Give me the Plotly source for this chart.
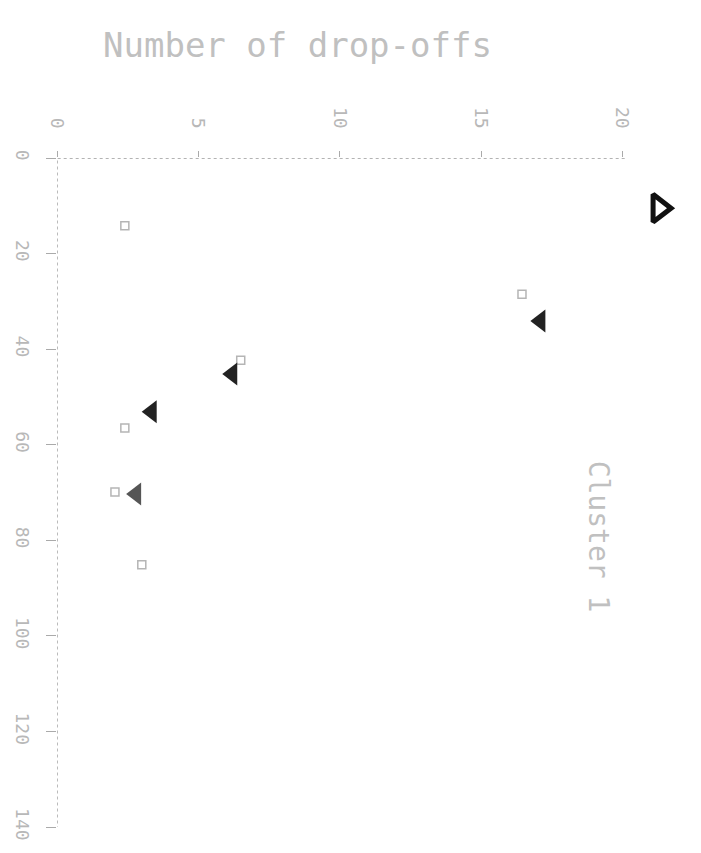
import plotly.graph_objects as go

# Data
x_ticks = [0, 5, 10, 15, 20]
y_ticks = [0, 20, 40, 60, 80, 100, 120, 140]

label_x = [2.4, 6.5, 2.4, 2.05, 3.0, 16.45]
label_y = [14.2, 42.3, 56.5, 69.9, 85.1, 28.5]

tri_x = [6.2, 3.35, 2.8, 17.1]
tri_y = [45.2, 53.1, 70.3, 34.1]
tri_colors = ["#222222", "#222222", "#555555", "#222222"]

special_x = [21.3]
special_y = [10.5]

fig = go.Figure()

fig.add_trace(go.Scatter(
    x=label_x, y=label_y, mode="markers",
    marker=dict(symbol="square-open", size=8, color="#b5b5b5", line=dict(width=1.5)),
    cliponaxis=False, showlegend=False, hoverinfo="skip"))

fig.add_trace(go.Scatter(
    x=tri_x, y=tri_y, mode="markers",
    marker=dict(symbol="triangle-left", size=20, color=tri_colors, line=dict(width=0)),
    cliponaxis=False, showlegend=False))

fig.add_trace(go.Scatter(
    x=special_x, y=special_y, mode="markers",
    marker=dict(symbol="triangle-right-open", size=24, color="#111111", line=dict(width=5)),
    cliponaxis=False, showlegend=False))

# dotted axis lines
fig.add_shape(type="line", xref="x", yref="y", x0=-0.4, x1=20.1, y0=0, y1=0,
              line=dict(color="#9a9a9a", width=1.5, dash="dot"))
fig.add_shape(type="line", xref="x", yref="y", x0=0, x1=0, y0=-2, y1=141,
              line=dict(color="#a5a5a5", width=1.5, dash="dot"))

fig.add_annotation(text="Number of drop-offs", xref="x", yref="paper",
                   x=8.5, y=1.0, xanchor="center", yanchor="middle", yshift=113,
                   showarrow=False,
                   font=dict(family="DejaVu Sans Mono", size=34, color="#c0c0c0"))

fig.add_annotation(text="Cluster 1", xref="x", yref="y",
                   x=19.15, y=79.3, textangle=90, showarrow=False,
                   font=dict(family="DejaVu Sans Mono", size=28, color="#c0c0c0"))

fig.update_xaxes(side="top", range=[0, 22.5], tickmode="array", tickvals=x_ticks,
                 ticktext=[str(v) for v in x_ticks], tickangle=90,
                 ticks="outside", ticklen=6, tickcolor="#aaaaaa",
                 ticklabelstandoff=16, automargin=False,
                 tickfont=dict(family="DejaVu Sans Mono", size=18, color="#b8b8b8"),
                 showgrid=False, zeroline=False, showline=False)
fig.update_yaxes(range=[140, 0], tickmode="array", tickvals=y_ticks,
                 ticktext=[str(v) for v in y_ticks], tickangle=90,
                 ticks="outside", ticklen=10, tickcolor="#aaaaaa",
                 ticklabelstandoff=8, automargin=False,
                 tickfont=dict(family="DejaVu Sans Mono", size=18, color="#b8b8b8"),
                 showgrid=False, zeroline=False, showline=False)

fig.update_layout(width=701, height=853,
                  margin=dict(l=49, r=16, t=150, b=34, autoexpand=False),
                  paper_bgcolor="white", plot_bgcolor="white")

fig.write_html("out.html")
